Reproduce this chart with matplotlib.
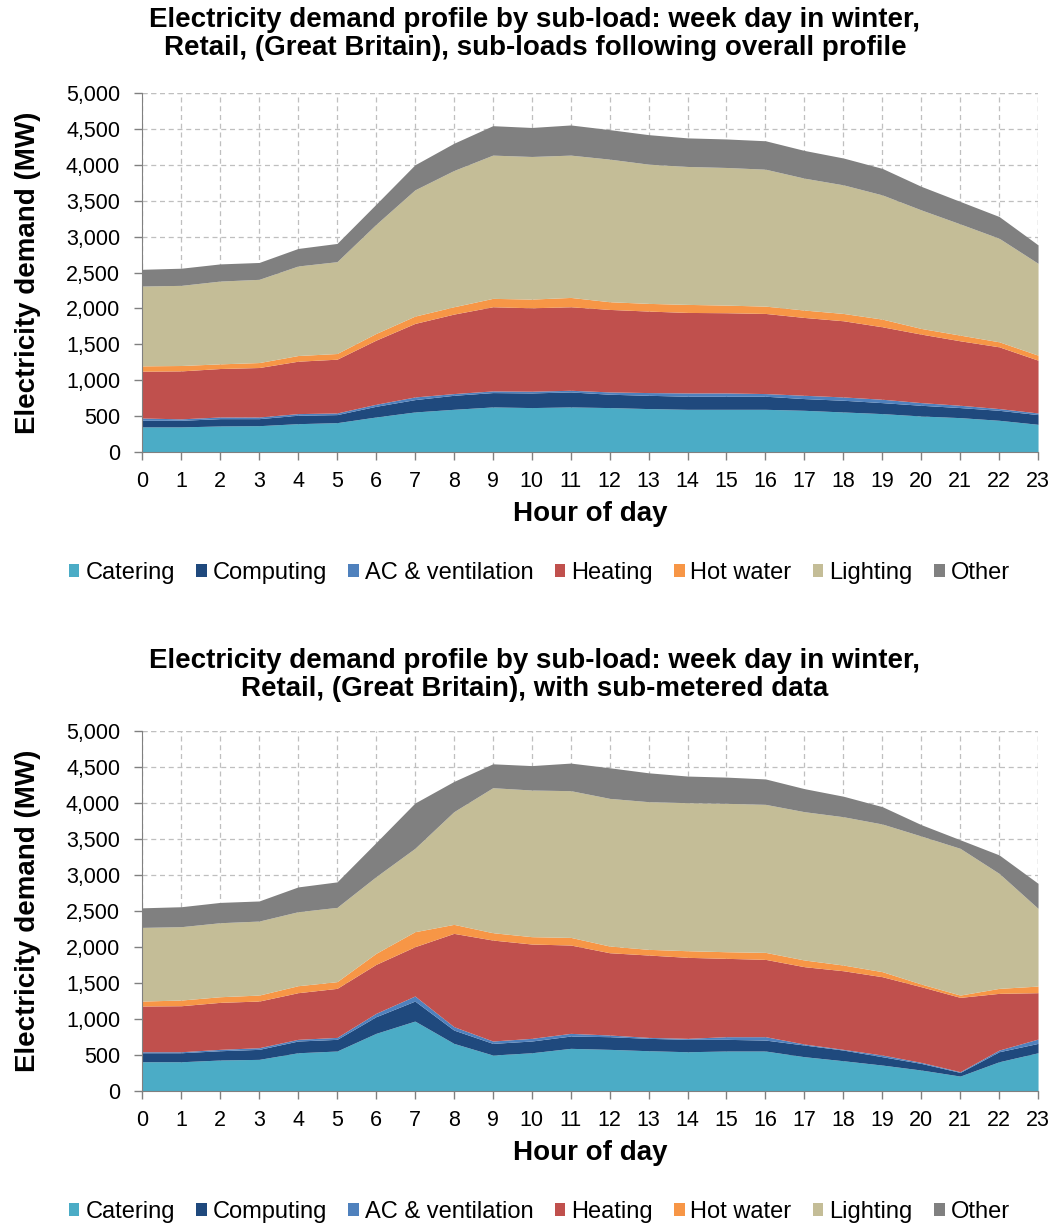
import numpy as np
import matplotlib.pyplot as plt

plt.rcParams['font.family'] = ['Liberation Sans', 'DejaVu Sans']

# -----------------------------------------------------------
# data: cumulative stack tops (MW)
# -----------------------------------------------------------
HOURS = list(range(24))
SERIES = ["Catering", "Computing", "AC & ventilation", "Heating",
          "Hot water", "Lighting", "Other"]
COLORS = ["#4BACC6", "#1F497D", "#4F81BD", "#C0504D",
          "#F79646", "#C4BD97", "#808080"]

# total demand (top of "Other"), same in both charts
total = [2545, 2560, 2620, 2640, 2835, 2905, 3450, 4000, 4300, 4545, 4520, 4555,
         4490, 4420, 4375, 4360, 4335, 4200, 4095, 3950, 3700, 3490, 3280, 2885]

# chart 1: sub-loads following overall profile
top_catering_1 = [350, 350, 363, 367, 395, 409, 488, 558, 595, 628, 619, 628,
                  619, 605, 595, 595, 595, 581, 558, 535, 502, 479, 442, 386]
top_computing_1 = [442, 442, 465, 465, 512, 521, 637, 730, 790, 828, 823, 837,
                   805, 790, 777, 777, 777, 744, 721, 688, 651, 619, 581, 521]
top_ac_1 = [474, 462, 488, 488, 535, 544, 665, 767, 814, 851, 847, 860,
            837, 828, 823, 823, 814, 790, 767, 735, 688, 651, 605, 544]
top_heating_1 = [1126, 1130, 1163, 1177, 1265, 1293, 1558, 1791, 1921, 2023, 2009, 2023,
                 1986, 1963, 1944, 1940, 1930, 1874, 1828, 1744, 1642, 1549, 1465, 1279]
top_hotwater_1 = [1200, 1205, 1228, 1246, 1344, 1372, 1651, 1893, 2023, 2140, 2130, 2153,
                  2093, 2070, 2056, 2046, 2032, 1977, 1930, 1851, 1721, 1628, 1535, 1349]
top_lighting_1 = [2312, 2321, 2381, 2405, 2591, 2651, 3170, 3651, 3921, 4135, 4116, 4135,
                  4079, 4009, 3977, 3963, 3939, 3814, 3721, 3581, 3372, 3177, 2977, 2628]

# chart 2: with sub-metered data
top_catering_2 = [407, 407, 431, 440, 532, 556, 801, 972, 662, 500, 532, 593,
                  579, 560, 546, 556, 556, 477, 421, 361, 292, 208, 407, 532]
top_computing_2 = [532, 532, 560, 579, 695, 718, 1032, 1250, 847, 662, 695, 764,
                   755, 732, 718, 718, 708, 639, 569, 477, 384, 259, 546, 662]
top_ac_2 = [546, 546, 579, 602, 718, 745, 1079, 1320, 894, 695, 732, 801,
            778, 745, 732, 755, 755, 653, 579, 500, 398, 269, 569, 722]
top_heating_2 = [1181, 1185, 1232, 1250, 1366, 1426, 1759, 2005, 2190, 2097, 2042, 2028,
                 1921, 1889, 1857, 1843, 1829, 1727, 1671, 1588, 1449, 1301, 1357, 1366]
top_hotwater_2 = [1250, 1264, 1310, 1333, 1463, 1519, 1912, 2213, 2315, 2199, 2144, 2134,
                  2014, 1968, 1949, 1935, 1926, 1820, 1750, 1658, 1486, 1333, 1426, 1458]
top_lighting_2 = [2273, 2283, 2338, 2361, 2491, 2551, 2977, 3371, 3880, 4213, 4181, 4172,
                  4065, 4019, 4005, 3996, 3982, 3880, 3810, 3709, 3542, 3371, 3023, 2537]

TITLE_1 = ("Electricity demand profile by sub-load: week day in winter,\n"
           "Retail, (Great Britain), sub-loads following overall profile")
TITLE_2 = ("Electricity demand profile by sub-load: week day in winter,\n"
           "Retail, (Great Britain), with sub-metered data")

GRID_LS = (0, (4, 3))
GRID_COL = "#BFBFBF"


def draw_panel(fig, rect, tops, title, title_y, legend_y):
    ax = fig.add_axes(rect)
    lower = np.zeros(len(HOURS))
    for name, color, upper in zip(SERIES, COLORS, tops):
        upper = np.asarray(upper, dtype=float)
        ax.fill_between(HOURS, lower, upper, color=color, lw=0, label=name)
        lower = upper

    ax.set_xlim(0, 23)
    ax.set_ylim(0, 5000)
    ax.set_xticks(HOURS)
    ax.set_yticks(range(0, 5001, 500))
    ax.set_yticklabels([f"{v:,}" for v in range(0, 5001, 500)])
    ax.tick_params(axis="both", labelsize=15.5, colors="#808080",
                   labelcolor="black", direction="out", length=6, width=1)
    ax.tick_params(axis="x", pad=8)
    ax.tick_params(axis="y", pad=10)
    ax.grid(True, ls=GRID_LS, color=GRID_COL, lw=0.9)
    ax.set_axisbelow(True)
    for s in ["top", "right"]:
        ax.spines[s].set_visible(False)
    for s in ["left", "bottom"]:
        ax.spines[s].set_color("#808080")
        ax.spines[s].set_zorder(5)
    # dashed frame lines on the open sides
    ax.axhline(5000, ls=GRID_LS, color=GRID_COL, lw=0.9, zorder=0)
    ax.axvline(23, ls=GRID_LS, color=GRID_COL, lw=0.9, zorder=0)

    ax.set_xlabel("Hour of day", fontsize=20, fontweight="bold")
    ax.set_ylabel("Electricity demand (MW)", fontsize=20, fontweight="bold")
    ax.xaxis.set_label_coords(0.5, -0.137)
    ax.yaxis.set_label_coords(-0.128, 0.5)
    ax.yaxis.label.set_va("center")

    fig.text(0.508, title_y, title, ha="center", va="center", fontsize=20,
             fontweight="bold", linespacing=1.12)

    handles, labels = ax.get_legend_handles_labels()
    fig.legend(handles, labels, loc="center", bbox_to_anchor=(0.512, legend_y),
               ncol=7, frameon=False, fontsize=17, handlelength=0.45,
               handleheight=0.45, handletextpad=0.25, columnspacing=0.9)
    return ax


fig = plt.figure(figsize=(10.53, 12.27), dpi=100)

tops_1 = [top_catering_1, top_computing_1, top_ac_1, top_heating_1,
          top_hotwater_1, top_lighting_1, total]
tops_2 = [top_catering_2, top_computing_2, top_ac_2, top_heating_2,
          top_hotwater_2, top_lighting_2, total]

draw_panel(fig, [0.1351, 0.6316, 0.8507, 0.2926], tops_1, TITLE_1,
           title_y=1 - 34 / 1227, legend_y=1 - 573 / 1227)
draw_panel(fig, [0.1351, 0.1108, 0.8507, 0.2934], tops_2, TITLE_2,
           title_y=1 - 675 / 1227, legend_y=1 - 1212 / 1227)

fig.savefig("out.png", dpi=100)
